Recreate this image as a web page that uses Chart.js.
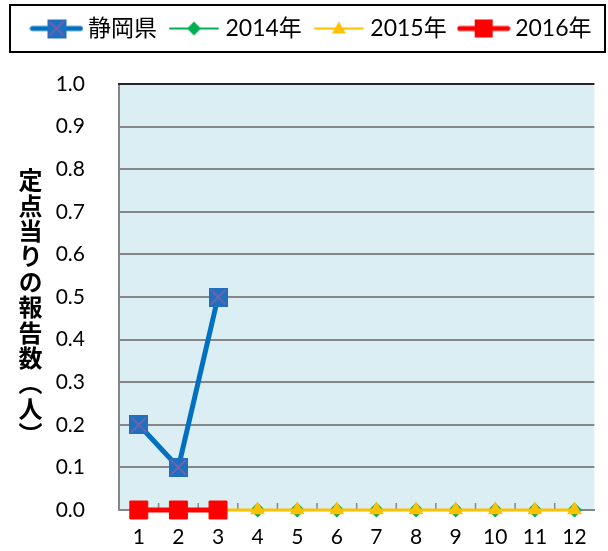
<!DOCTYPE html>
<html>
<head>
<meta charset="utf-8">
<script src="https://cdn.jsdelivr.net/npm/chart.js@4/dist/chart.umd.min.js"></script>
<style>
  body { margin: 0; background: #fff; }
  #wrap { position: relative; width: 608px; height: 551px; }
  canvas { display: block; }
  #ytitle {
    position: absolute; left: 18px; top: 168px;
    writing-mode: vertical-rl; text-orientation: upright;
    font: bold 24px 'Noto Sans CJK JP', sans-serif; line-height: 1;
    letter-spacing: 1.4px; color: #000;
  }
</style>
</head>
<body>
<div id="wrap">
  <canvas id="chart" width="608" height="551"></canvas>
  <div id="ytitle">定点当りの報告数（人）</div>
</div>
<script>
const months = ['1', '2', '3', '4', '5', '6', '7', '8', '9', '10', '11', '12'];
const shizuoka = [0.2, 0.1, 0.5, null, null, null, null, null, null, null, null, null];
const y2014 = [0, 0, 0, 0, 0, 0, 0, 0, 0, 0, 0, 0];
const y2015 = [0, 0, 0, 0, 0, 0, 0, 0, 0, 0, 0, 0];
const y2016 = [0, 0, 0, null, null, null, null, null, null, null, null, null];
const seriesNames = ['静岡県', '2014年', '2015年', '2016年'];

const BLUE = '#0070C0';
const GREEN = '#00B050';
const YELLOW = '#FFC000';
const RED = '#FF0000';
const FONT = "Lato, 'Noto Sans CJK JP', sans-serif";

function crossSquare(size) {
    const c = document.createElement('canvas');
    c.width = size; c.height = size;
    const g = c.getContext('2d');
    g.fillStyle = '#1F6FC0';
    g.fillRect(0, 0, size, size);
    g.strokeStyle = '#8A5FA6';
    g.lineWidth = 1.5;
    g.beginPath();
    g.moveTo(2, 2); g.lineTo(size - 2, size - 2);
    g.moveTo(size - 2, 2); g.lineTo(2, size - 2);
    g.stroke();
    return c;
}

// legend icon: line segment with the marker in the middle
function legendIcon(color, width, drawMarker) {
    const c = document.createElement('canvas');
    c.width = 54; c.height = 22;
    const g = c.getContext('2d');
    g.strokeStyle = color;
    g.lineWidth = width;
    g.lineCap = 'round';
    g.beginPath();
    g.moveTo(3, 11); g.lineTo(51, 11);
    g.stroke();
    drawMarker(g, 27, 11);
    return c;
}

const marker = crossSquare(19);
const icons = [
    legendIcon(BLUE, 5, (g, x, y) => g.drawImage(marker, x - 9.5, y - 9.5)),
    legendIcon(GREEN, 2, (g, x, y) => {
        g.fillStyle = GREEN;
        g.beginPath();
        g.moveTo(x, y - 7); g.lineTo(x + 7, y); g.lineTo(x, y + 7); g.lineTo(x - 7, y);
        g.fill();
    }),
    legendIcon(YELLOW, 2, (g, x, y) => {
        g.fillStyle = YELLOW;
        g.beginPath();
        g.moveTo(x, y - 7); g.lineTo(x + 7, y + 5); g.lineTo(x - 7, y + 5);
        g.fill();
    }),
    legendIcon(RED, 5, (g, x, y) => {
        g.fillStyle = RED;
        g.fillRect(x - 9, y - 9, 18, 18);
    }),
];

const decor = {
    id: 'decor',
    afterInit(chart) {
        // leave the gap between the legend and the plot
        const legend = chart.legend;
        const fit = legend.fit;
        legend.fit = function () {
            fit.call(this);
            this.height = 84;
        };
    },
    afterLayout(chart) {
        chart.legend.left += 4;
        chart.legend.right += 4;
    },
    beforeDraw(chart) {
        const { ctx, chartArea: a } = chart;
        ctx.save();
        ctx.fillStyle = '#DBEEF4';
        ctx.fillRect(a.left, a.top, a.right - a.left, a.bottom - a.top);
        ctx.restore();
    },
    beforeDatasetsDraw(chart) {
        const { ctx, chartArea: a, scales: { x } } = chart;
        ctx.save();
        // small inside tick marks between categories
        ctx.strokeStyle = '#868686';
        ctx.lineWidth = 1.5;
        ctx.beginPath();
        for (let i = 1; i < months.length; i++) {
            const px = (x.getPixelForValue(i - 1) + x.getPixelForValue(i)) / 2;
            ctx.moveTo(px, a.bottom);
            ctx.lineTo(px, a.bottom - 7);
        }
        ctx.stroke();
        // darker top edge of the plot area
        ctx.strokeStyle = '#262626';
        ctx.lineWidth = 2;
        ctx.beginPath();
        ctx.moveTo(a.left - 1, a.top);
        ctx.lineTo(a.right, a.top);
        ctx.stroke();
        ctx.restore();
    },
    afterDraw(chart) {
        const { ctx } = chart;
        ctx.save();
        ctx.strokeStyle = '#000';
        ctx.lineWidth = 2;
        ctx.strokeRect(10, 5, 595, 47);
        ctx.restore();
    },
};

new Chart(document.getElementById('chart'), {
    type: 'line',
    data: {
        labels: months,
        datasets: [
            {
                label: seriesNames[0],
                data: shizuoka,
                borderColor: BLUE,
                backgroundColor: BLUE,
                borderWidth: 5,
                pointStyle: marker,
                order: 0,
                clip: false,
            },
            {
                label: seriesNames[1],
                data: y2014,
                borderColor: GREEN,
                backgroundColor: GREEN,
                borderWidth: 2,
                pointStyle: 'rectRot',
                pointRadius: 7.5,
                pointBorderWidth: 0,
                order: 3,
                clip: false,
            },
            {
                label: seriesNames[2],
                data: y2015,
                borderColor: YELLOW,
                backgroundColor: YELLOW,
                borderWidth: 3,
                pointStyle: 'triangle',
                pointRadius: 8.5,
                pointBorderWidth: 0,
                order: 2,
                clip: false,
            },
            {
                label: seriesNames[3],
                data: y2016,
                borderColor: RED,
                backgroundColor: RED,
                borderWidth: 5,
                pointStyle: 'rect',
                pointRadius: 12.7,
                pointBorderWidth: 1,
                order: 1,
                clip: false,
            },
        ],
    },
    options: {
        responsive: false,
        animation: false,
        layout: { padding: { left: 14, right: 2, top: 0, bottom: 0 } },
        plugins: {
            tooltip: { enabled: false },
            legend: {
                position: 'top',
                labels: {
                    usePointStyle: true,
                    pointStyleWidth: 40,
                    padding: 17,
                    color: '#000',
                    font: { family: FONT, size: 23 },
                    sort: (a, b) => a.datasetIndex - b.datasetIndex,
                    generateLabels: (chart) =>
                        Chart.defaults.plugins.legend.labels.generateLabels(chart)
                            .map((item) => ({ ...item, pointStyle: icons[item.datasetIndex] })),
                },
            },
        },
        scales: {
            x: {
                offset: true,
                grid: { display: false, drawTicks: false },
                border: { color: '#868686', width: 2 },
                ticks: { color: '#000', font: { family: FONT, size: 21 }, padding: 15 },
                afterFit: (scale) => {
                    scale.height = 41;
                    scale.paddingLeft = 0;
                    scale.paddingRight = 0;
                },
            },
            y: {
                min: 0,
                max: 1,
                grid: { color: '#868686', lineWidth: 2, drawTicks: false },
                border: { color: '#868686', width: 2 },
                ticks: {
                    stepSize: 0.1,
                    color: '#000',
                    font: { family: FONT, size: 21 },
                    padding: 34,
                    callback: (v) => Number(v).toFixed(1),
                },
                afterFit: (scale) => {
                    scale.width = 105;
                    scale.paddingTop = 0;
                    scale.paddingBottom = 0;
                },
            },
        },
    },
    plugins: [decor],
});
</script>
</body>
</html>
